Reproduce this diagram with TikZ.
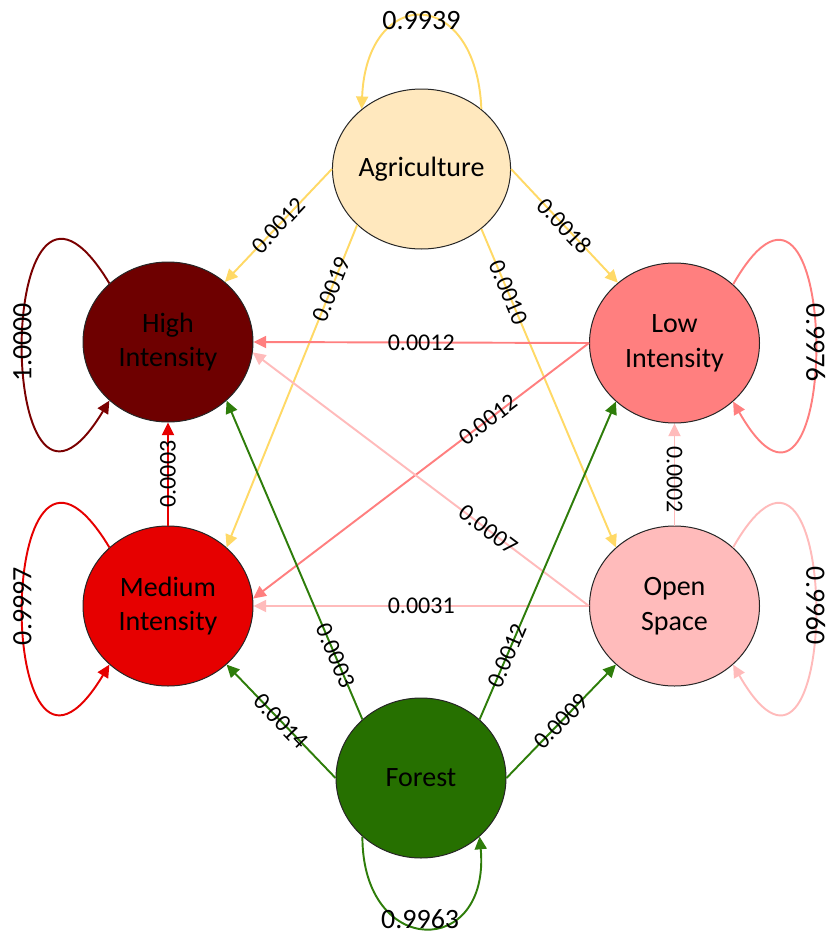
\documentclass[tikz,border=0pt]{standalone}
\usepackage{fontspec}
\setmainfont{Carlito}
\usetikzlibrary{shapes.geometric,arrows.meta}

\definecolor{agrifill}{HTML}{FFE8BE}
\definecolor{agriline}{HTML}{FFD966}
\definecolor{highfill}{HTML}{6E0000}
\definecolor{highline}{HTML}{7A0000}
\definecolor{lowfill}{HTML}{FF7F7F}
\definecolor{medfill}{HTML}{E60000}
\definecolor{openfill}{HTML}{FFBBBB}
\definecolor{forestfill}{HTML}{267000}
\definecolor{forestline}{HTML}{2E7D0A}

\tikzstyle{state} = [ellipse, draw=black!85, line width=0.75pt, minimum width=127.5pt, minimum height=120pt, inner sep=0pt, align=center, font=\fontsize{21}{26}\selectfont]
\tikzstyle{trans} = [line width=1.45pt, -{Triangle[length=9.5pt,width=9pt]}]
\tikzstyle{prob} = [text=black, font=\fontsize{18}{20}\selectfont, inner sep=1pt]
\tikzstyle{selfprob} = [text=black, font=\fontsize{21}{24}\selectfont, inner sep=1pt]

\begin{document}
\begin{tikzpicture}[x=0.75pt, y=-0.75pt]
\useasboundingbox (0,0) rectangle (831,935);
\node [state, fill=agrifill] (agri) at (421.5,169) {Agriculture};
\node [state, fill=highfill] (high) at (168,342) {High\\Intensity};
\node [state, fill=lowfill] (low) at (674.5,343) {Low\\Intensity};
\node [state, fill=medfill] (med) at (168,606) {Medium\\Intensity};
\node [state, fill=openfill] (open) at (674.5,606) {Open\\Space};
\node [state, fill=forestfill] (forest) at (421,778) {Forest};

\draw [trans, agriline] (agri.45) .. controls +(-5,-124) and +(5,-124) .. node [selfprob, yshift=-3pt] {0.9939} (agri.135);
\draw [trans, highline] (high.135) .. controls +(-116,-192) and +(-116,192) .. node [selfprob, rotate=90] {1.0000} (high.-135);
\draw [trans, medfill] (med.135) .. controls +(-116,-192) and +(-116,192) .. node [selfprob, rotate=90] {0.9997} (med.-135);
\draw [trans, lowfill] (low.45) .. controls +(110,-192) and +(110,192) .. node [selfprob, rotate=-90] {0.9976} (low.-45);
\draw [trans, openfill] (open.45) .. controls +(110,-192) and +(110,192) .. node [selfprob, rotate=-90] {0.9960} (open.-45);
\draw [trans, forestline] (forest.-135) .. controls +(0,122) and +(11,122) .. node [selfprob, xshift=-3.75pt, yshift=6.5pt] {0.9963} (forest.-45);

\draw [trans, agriline] (agri.west) -- node [prob, sloped] {0.0012} (high);
\draw [trans, agriline] (agri.east) -- node [prob, sloped] {0.0018} (low);
\draw [trans, agriline] (agri.-139) -- node [prob, sloped, pos=0.2] {0.0019} (med.45);
\draw [trans, agriline] (agri.-45) -- node [prob, sloped, pos=0.2] {0.0010} (open.135);
\draw [trans, lowfill] (low.west) -- node [prob] {0.0012} (high.east);
\draw [trans, lowfill] (low.west) -- node [prob, sloped, pos=0.3] {0.0012} (med.5);
\draw [trans, openfill] (open.west) -- node [prob, sloped, pos=0.3] {0.0007} (high.-7);
\draw [trans, openfill] (open.west) -- node [prob] {0.0031} (med.east);
\draw [trans, openfill] (open.north) -- node [prob, rotate=-90, pos=0.45] {0.0002} (low.south);
\draw [trans, medfill] (med.north) -- node [prob, rotate=90] {0.0003} (high.south);
\draw [trans, forestline] (forest.135) -- node [prob, sloped, pos=0.2] {0.0003} (high.-45);
\draw [trans, forestline] (forest.45) -- node [prob, sloped, pos=0.2] {0.0012} (low.-135);
\draw [trans, forestline] (forest.west) -- node [prob, sloped] {0.0014} (med.-45);
\draw [trans, forestline] (forest.east) -- node [prob, sloped] {0.0009} (open.-135);
\end{tikzpicture}
\end{document}
